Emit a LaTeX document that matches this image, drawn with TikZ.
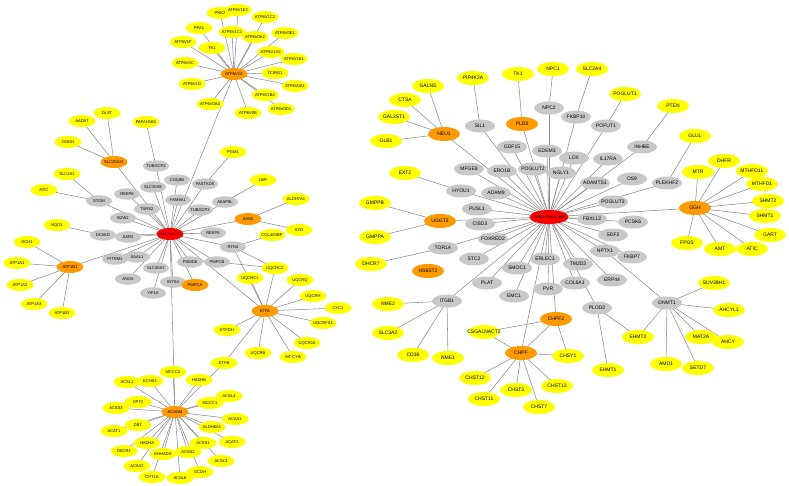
\documentclass[tikz,border=0pt]{standalone}
\usepackage{fontspec}
\setmainfont{Liberation Sans}
\usetikzlibrary{shapes.geometric,backgrounds}
\definecolor{ye}{HTML}{FFFF00}
\definecolor{og}{HTML}{FF9A00}
\definecolor{gy}{HTML}{C8C8C8}
\definecolor{rd}{HTML}{FF0000}
\definecolor{edgec}{HTML}{8C8C8C}
\newcommand{\nlab}[1]{\makebox[0pt]{#1}}
\tikzset{
  base/.style={ellipse, inner sep=0pt, draw=none},
  sm/.style={base, minimum width=27pt, minimum height=12pt, font=\fontsize{4.1}{5}\selectfont},
  smg/.style={base, minimum width=26pt, minimum height=11.5pt, font=\fontsize{4.1}{5}\selectfont, fill=gy},
  lg/.style={base, minimum width=32pt, minimum height=14pt, font=\fontsize{5}{6}\selectfont},
  lgg/.style={base, minimum width=30pt, minimum height=13pt, font=\fontsize{5}{6}\selectfont, fill=gy},
  Y/.style={fill=ye}, O/.style={fill=og}, R/.style={fill=rd},
  edge/.style={draw=edgec, line width=0.55pt}
}
\begin{document}
\begin{tikzpicture}[x=1pt,y=-1pt]
\useasboundingbox (0,0) rectangle (789,486);
% ---------- left cluster ----------
\node[sm,R,minimum width=27pt] (hubM) at (170,234) {\fontsize{3.3}{4}\selectfont\nlab{SARS-CoV-2 M}};
% ATP6V1A group
\node[sm,O] (ATP6V1A) at (234,74) {\nlab{ATP6V1A}};
\node[sm,Y] (ATP6V1F) at (183,42) {\nlab{ATP6V1F}};
\node[sm,Y] (ATP6V0C) at (185,63) {\nlab{ATP6V0C}};
\node[sm,Y] (ATP6V1D) at (192,84) {\nlab{ATP6V1D}};
\node[sm,Y] (PPA1) at (199,28) {\nlab{PPA1}};
\node[sm,Y] (PRK2) at (220,13) {\nlab{PRK2}};
\node[sm,Y] (ATP6V1E2) at (238,10) {\nlab{ATP6V1E2}};
\node[sm,Y] (ATP6V1C2) at (265,17) {\nlab{ATP6V1C2}};
\node[sm,Y] (ATP6V1C1) at (232,32) {\nlab{ATP6V1C1}};
\node[sm,Y] (ATP6V0A2) at (255,37) {\nlab{ATP6V0A2}};
\node[sm,Y] (ATP6V0E1) at (285,33) {\nlab{ATP6V0E1}};
\node[sm,Y] (TKa) at (212,48) {\nlab{TK1}};
\node[sm,Y] (ATP6V1G1) at (271,52) {\nlab{ATP6V1G1}};
\node[sm,Y] (ATP6V1E1) at (294,59) {\nlab{ATP6V1E1}};
\node[sm,Y] (TCIRG1) at (275,73) {\nlab{TCIRG1}};
\node[sm,Y] (ATP6V0A1) at (295,86) {\nlab{ATP6V0A1}};
\node[sm,Y] (ATP6V1B2) at (265,95) {\nlab{ATP6V1B2}};
\node[sm,Y] (ATP6V0D1) at (281,109) {\nlab{ATP6V0D1}};
\node[sm,Y] (ATP6V0B) at (248,113) {\nlab{ATP6V0B}};
\node[sm,Y] (ATP6V0A4) at (210,104) {\nlab{ATP6V0A4}};
\node[sm,Y] (PGM1) at (233,152) {\nlab{PGM1}};
% SLC25A21 group
\node[sm,O] (SLC25A21) at (114,162) {\nlab{SLC25A21}};
\node[sm,Y] (DLST) at (107,113) {\nlab{DLST}};
\node[sm,Y] (AADAT) at (82,121) {\nlab{AADAT}};
\node[sm,Y] (OGDH) at (68,142) {\nlab{OGDH}};
\node[sm,Y] (PAFAH1B1) at (146,122) {\nlab{PAFAH1B1}};
\node[sm,Y] (SLC2A1) at (67,174) {\nlab{SLC2A1}};
\node[sm,Y] (ATICa) at (44,190) {\nlab{ATIC}};
\node[sm,Y] (NQO1) at (57,225) {\nlab{NQO1}};
% ATP1B1 group
\node[sm,O] (ATP1B1) at (70,267) {\nlab{ATP1B1}};
\node[sm,Y] (GCH1) at (27,242) {\nlab{GCH1}};
\node[sm,Y] (ATP1A1) at (17,263) {\nlab{ATP1A1}};
\node[sm,Y] (ATP1A2) at (20,285) {\nlab{ATP1A2}};
\node[sm,Y] (ATP1A3) at (34,304) {\nlab{ATP1A3}};
\node[sm,Y] (ATP1B3) at (62,313) {\nlab{ATP1B3}};
% gray M interactors
\node[smg] (TUBGCP2) at (156,166) {\nlab{TUBGCP2}};
\node[smg] (COQ8B) at (177,180) {\nlab{COQ8B}};
\node[smg] (SLC30A9) at (153,187) {\nlab{SLC30A9}};
\node[smg] (REEP6) at (127,194) {\nlab{REEP6}};
\node[smg] (FAM8A1) at (178,200) {\nlab{FAM8A1}};
\node[smg] (TARS2) at (147,209) {\nlab{TARS2}};
\node[smg] (STOM) at (99,201) {\nlab{STOM}};
\node[smg] (BZW2) at (123,218) {\nlab{BZW2}};
\node[smg] (DCAKD) at (103,235) {\nlab{DCAKD}};
\node[smg] (AAR2) at (128,237) {\nlab{AAR2}};
\node[smg] (PITRM1) at (115,259) {\nlab{PITRM1}};
\node[smg] (SAAL1) at (137,257) {\nlab{SAAL1}};
\node[smg] (SLC30A7) at (156,268) {\nlab{SLC30A7}};
\node[smg] (ANO6) at (128,279) {\nlab{ANO6}};
\node[smg] (YIF1A) at (153,293) {\nlab{YIF1A}};
\node[smg] (INTS4) at (173,282) {\nlab{INTS4}};
\node[smg] (PSMD6) at (190,262) {\nlab{PSMD6}};
\node[smg] (PMPCB) at (217,262) {\nlab{PMPCB}};
\node[smg] (FASTKD5) at (205,184) {\nlab{FASTKD5}};
\node[smg] (AKAP8L) at (225,202) {\nlab{AKAP8L}};
\node[smg] (TUBGCP3) at (200,210) {\nlab{TUBGCP3}};
\node[smg] (REEP5) at (213,233) {\nlab{REEP5}};
\node[smg] (RTN4) at (233,247) {\nlab{RTN4}};
\node[sm,O] (PMPCA) at (195,285) {\nlab{PMPCA}};
% AASS
\node[sm,O] (AASS) at (248,219) {\nlab{AASS}};
\node[sm,Y] (LBR) at (263,180) {\nlab{LBR}};
\node[sm,Y] (ALDH7A1) at (296,199) {\nlab{ALDH7A1}};
\node[sm,Y] (SYD) at (299,230) {\nlab{SYD}};
\node[sm,Y] (COL4A3BP) at (272,235) {\nlab{COL4A3BP}};
% ETFA group
\node[sm,O] (ETFA) at (265,311) {\nlab{ETFA}};
\node[sm,Y] (UQCRC2) at (275,268) {\nlab{UQCRC2}};
\node[sm,Y] (UQCRC1) at (250,278) {\nlab{UQCRC1}};
\node[sm,Y] (UQCRQ) at (300,280) {\nlab{UQCRQ}};
\node[sm,Y] (UQCRH) at (313,296) {\nlab{UQCRH}};
\node[sm,Y] (CYC1) at (338,308) {\nlab{CYC1}};
\node[sm,Y] (UQCRFS1) at (323,323) {\nlab{UQCRFS1}};
\node[sm,Y] (UQCR10) at (307,343) {\nlab{UQCR10}};
\node[sm,Y] (MTCYB) at (293,357) {\nlab{MT-CYB}};
\node[sm,Y] (UQCRB) at (258,353) {\nlab{UQCRB}};
\node[sm,Y] (ETFDH) at (227,330) {\nlab{ETFDH}};
\node[sm,Y] (ETFB) at (224,363) {\nlab{ETFB}};
% ACADM group
\node[sm,O] (ACADM) at (175,412) {\nlab{ACADM}};
\node[sm,Y] (MCCC2) at (173,372) {\nlab{MCCC2}};
\node[sm,Y] (HADHB) at (199,380) {\nlab{HADHB}};
\node[sm,Y] (ECHS1) at (150,381) {\nlab{ECHS1}};
\node[sm,Y] (ACSL1) at (127,382) {\nlab{ACSL1}};
\node[sm,Y] (CPT2) at (138,402) {\nlab{CPT2}};
\node[sm,Y] (ACSS3) at (116,408) {\nlab{ACSS3}};
\node[sm,Y] (DBT) at (138,425) {\nlab{DBT}};
\node[sm,Y] (ACAT1) at (114,431) {\nlab{ACAT1}};
\node[sm,Y] (HADHA) at (147,443) {\nlab{HADHA}};
\node[sm,Y] (DECR1) at (124,451) {\nlab{DECR1}};
\node[sm,Y] (ACSS2) at (188,452) {\nlab{ACSS2}};
\node[sm,Y] (EHHADH) at (163,454) {\nlab{EHHADH}};
\node[sm,Y] (ACAA2) at (137,466) {\nlab{ACAA2}};
\node[sm,Y] (CPT1A) at (152,477) {\nlab{CPT1A}};
\node[sm,Y] (ACSL6) at (180,478) {\nlab{ACSL6}};
\node[sm,Y] (GCDH) at (200,472) {\nlab{GCDH}};
\node[sm,Y] (ACSL3) at (221,461) {\nlab{ACSL3}};
\node[sm,Y] (ACAT2) at (232,442) {\nlab{ACAT2}};
\node[sm,Y] (ACSS1) at (203,443) {\nlab{ACSS1}};
\node[sm,Y] (ALDH6A1) at (212,427) {\nlab{ALDH6A1}};
\node[sm,Y] (ACAA1) at (235,419) {\nlab{ACAA1}};
\node[sm,Y] (MCCC1) at (210,403) {\nlab{MCCC1}};
\node[sm,Y] (ACSL4) at (229,396) {\nlab{ACSL4}};
% ---------- right cluster ----------
\node[lg,R,minimum width=39pt] (hubO) at (549,217) {\fontsize{4}{5}\selectfont\nlab{SARS-CoV-2 orf8}};
\node[lg,O] (NEU1) at (444,134) {\nlab{NEU1}};
\node[lg,Y] (GALNS) at (428,86) {\nlab{GALNS}};
\node[lg,Y] (CTSA) at (405,100) {\nlab{CTSA}};
\node[lg,Y] (GAL3ST1) at (394,117) {\nlab{GAL3ST1}};
\node[lg,Y] (GLB1) at (386,141) {\nlab{GLB1}};
\node[lg,Y] (PIP4K2A) at (473,78) {\nlab{PIP4K2A}};
\node[lg,Y] (TKb) at (518,74) {\nlab{TK1}};
\node[lg,Y] (NPC1) at (553,69) {\nlab{NPC1}};
\node[lg,Y] (SLC2A4) at (592,69) {\nlab{SLC2A4}};
\node[lg,Y] (POGLUT1) at (625,94) {\nlab{POGLUT1}};
\node[lg,Y] (PTEN) at (673,106) {\nlab{PTEN}};
\node[lg,Y] (GLUL) at (695,136) {\nlab{GLUL}};
\node[lg,O] (PLD3) at (522,124) {\nlab{PLD3}};
\node[lg,O] (GGH) at (695,208) {\nlab{GGH}};
\node[lg,Y] (DHFR) at (724,161) {\nlab{DHFR}};
\node[lg,Y] (MTR) at (698,172) {\nlab{MTR}};
\node[lg,Y] (MTHFD1L) at (752,171) {\nlab{MTHFD1L}};
\node[lg,Y] (MTHFD1) at (762,184) {\nlab{MTHFD1}};
\node[lg,Y] (SHMT2) at (768,201) {\nlab{SHMT2}};
\node[lg,Y] (SHMT1) at (765,216) {\nlab{SHMT1}};
\node[lg,Y] (GART) at (770,235) {\nlab{GART}};
\node[lg,Y] (FPGS) at (687,243) {\nlab{FPGS}};
\node[lg,Y] (AMT) at (720,249) {\nlab{AMT}};
\node[lg,Y] (ATICb) at (752,249) {\nlab{ATIC}};
\node[lg,Y] (EXT2) at (405,173) {\nlab{EXT2}};
\node[lg,O] (UGGT2) at (440,221) {\nlab{UGGT2}};
\node[lg,Y] (GMPPB) at (375,203) {\nlab{GMPPB}};
\node[lg,Y] (GMPPA) at (375,237) {\nlab{GMPPA}};
\node[lg,Y] (DHCR7) at (371,264) {\nlab{DHCR7}};
\node[lg,O] (HS6ST2) at (428,271) {\nlab{HS6ST2}};
\node[lg,Y] (NME2) at (388,304) {\nlab{NME2}};
\node[lg,Y] (SLC3A2) at (388,333) {\nlab{SLC3A2}};
\node[lg,Y] (CD36) at (413,355) {\nlab{CD36}};
\node[lg,Y] (NME1) at (448,358) {\nlab{NME1}};
\node[lg,Y] (CSGALNACT2) at (484,332) {\nlab{CSGALNACT2}};
\node[lg,O] (CHPF2) at (556,319) {\nlab{CHPF2}};
\node[lg,O] (CHPF) at (521,353) {\nlab{CHPF}};
\node[lg,Y] (CHSY1) at (568,356) {\nlab{CHSY1}};
\node[lg,Y] (CHST12) at (475,378) {\nlab{CHST12}};
\node[lg,Y] (CHST3) at (516,390) {\nlab{CHST3}};
\node[lg,Y] (CHST13) at (557,386) {\nlab{CHST13}};
\node[lg,Y] (CHST11) at (484,399) {\nlab{CHST11}};
\node[lg,Y] (CHST7) at (539,407) {\nlab{CHST7}};
\node[lg,Y] (SUV39H1) at (714,283) {\nlab{SUV39H1}};
\node[lg,Y] (AHCYL1) at (729,310) {\nlab{AHCYL1}};
\node[lg,Y] (EHMT2) at (638,337) {\nlab{EHMT2}};
\node[lg,Y] (EHMT1) at (608,370) {\nlab{EHMT1}};
\node[lg,Y] (AMD1) at (666,364) {\nlab{AMD1}};
\node[lg,Y] (SETD7) at (698,368) {\nlab{SETD7}};
\node[lg,Y] (MAT2A) at (701,337) {\nlab{MAT2A}};
\node[lg,Y] (AHCY) at (728,342) {\nlab{AHCY}};
% gray orf8 interactors
\node[lgg] (SIL1) at (480,126) {\nlab{SIL1}};
\node[lgg] (NPC2) at (549,108) {\nlab{NPC2}};
\node[lgg] (FKBP10) at (576,117) {\nlab{FKBP10}};
\node[lgg] (GDF15) at (512,147) {\nlab{GDF15}};
\node[lgg] (EDEM3) at (547,151) {\nlab{EDEM3}};
\node[lgg] (LOX) at (574,158) {\nlab{LOX}};
\node[lgg] (POFUT1) at (606,126) {\nlab{POFUT1}};
\node[lgg] (INHBE) at (642,147) {\nlab{INHBE}};
\node[lgg] (IL17RA) at (608,159) {\nlab{IL17RA}};
\node[lgg] (MFGE8) at (469,169) {\nlab{MFGE8}};
\node[lgg] (ERO1B) at (502,171) {\nlab{ERO1B}};
\node[lgg] (POGLUT2) at (533,169) {\nlab{POGLUT2}};
\node[lgg] (NGLY1) at (561,173) {\nlab{NGLY1}};
\node[lgg] (HYOU1) at (461,191) {\nlab{HYOU1}};
\node[lgg] (ADAM9) at (496,193) {\nlab{ADAM9}};
\node[lgg] (ADAMTS1) at (595,183) {\nlab{ADAMTS1}};
\node[lgg] (OS9) at (632,179) {\nlab{OS9}};
\node[lgg] (PLEKHF2) at (667,183) {\nlab{PLEKHF2}};
\node[lgg] (PUSL1) at (477,209) {\nlab{PUSL1}};
\node[lgg] (CISD3) at (480,224) {\nlab{CISD3}};
\node[lgg] (FOXRED2) at (493,239) {\nlab{FOXRED2}};
\node[lgg] (TOR1A) at (443,248) {\nlab{TOR1A}};
\node[lgg] (STC2) at (474,259) {\nlab{STC2}};
\node[lgg] (POGLUT3) at (613,202) {\nlab{POGLUT3}};
\node[lgg] (FBXL12) at (592,219) {\nlab{FBXL12}};
\node[lgg] (PCSK6) at (633,222) {\nlab{PCSK6}};
\node[lgg] (SDF2) at (613,235) {\nlab{SDF2}};
\node[lgg] (NPTX1) at (605,251) {\nlab{NPTX1}};
\node[lgg] (FKBP7) at (632,257) {\nlab{FKBP7}};
\node[lgg] (SMOC1) at (517,268) {\nlab{SMOC1}};
\node[lgg] (ERLEC1) at (545,259) {\nlab{ERLEC1}};
\node[lgg] (TM2D3) at (578,264) {\nlab{TM2D3}};
\node[lgg] (ERP44) at (612,280) {\nlab{ERP44}};
\node[lgg] (PLAT) at (487,283) {\nlab{PLAT}};
\node[lgg] (COL6A1) at (575,283) {\nlab{COL6A1}};
\node[lgg] (PVR) at (548,289) {\nlab{PVR}};
\node[lgg] (EMC1) at (514,296) {\nlab{EMC1}};
\node[lgg] (PLOD2) at (597,308) {\nlab{PLOD2}};
\node[lgg] (ITGB1) at (447,301) {\nlab{ITGB1}};
\node[lgg] (DNMT1) at (667,303) {\nlab{DNMT1}};
% ---------- edges ----------
\begin{pgfonlayer}{background}
\foreach \b in {TUBGCP2,COQ8B,SLC30A9,REEP6,FAM8A1,TARS2,BZW2,STOM,DCAKD,AAR2,PITRM1,SAAL1,SLC30A7,ANO6,YIF1A,INTS4,PMPCA,PSMD6,PMPCB,RTN4,REEP5,AASS,AKAP8L,TUBGCP3,FASTKD5,ATP6V1A,SLC25A21,ATP1B1,ETFA,ACADM}
  \draw[edge] (hubM.center) -- (\b.center);
\foreach \b in {PPA1,PRK2,ATP6V1E2,ATP6V1C2,ATP6V1C1,ATP6V0A2,ATP6V0E1,TKa,ATP6V1G1,ATP6V1E1,TCIRG1,ATP6V0A1,ATP6V1B2,ATP6V0D1,ATP6V0B,ATP6V0A4,ATP6V1D,ATP6V0C,ATP6V1F}
  \draw[edge] (ATP6V1A.center) -- (\b.center);
\foreach \b in {DLST,AADAT,OGDH} \draw[edge] (SLC25A21.center) -- (\b.center);
\foreach \b in {GCH1,ATP1A1,ATP1A2,ATP1A3,ATP1B3} \draw[edge] (ATP1B1.center) -- (\b.center);
\foreach \a/\b in {PAFAH1B1/TUBGCP2,PGM1/FASTKD5,STOM/SLC2A1,STOM/ATICa,DCAKD/NQO1,AKAP8L/LBR,AASS/ALDH7A1,AASS/SYD,RTN4/COL4A3BP,RTN4/UQCRC2,RTN4/ETFA,PMPCB/UQCRC2,ETFB/ACADM}
  \draw[edge] (\a.center) -- (\b.center);
\foreach \b in {UQCRC1,UQCRC2,UQCRQ,UQCRH,CYC1,UQCRFS1,UQCR10,MTCYB,UQCRB,ETFDH,ETFB}
  \draw[edge] (ETFA.center) -- (\b.center);
\foreach \b in {MCCC2,HADHB,ECHS1,ACSL1,CPT2,ACSS3,DBT,ACAT1,HADHA,DECR1,EHHADH,ACSS2,ACAA2,CPT1A,ACSL6,GCDH,ACSS1,ACSL3,ACAT2,ALDH6A1,ACAA1,MCCC1,ACSL4}
  \draw[edge] (ACADM.center) -- (\b.center);
\foreach \b in {NEU1,SIL1,PLD3,NPC2,GDF15,EDEM3,LOX,FKBP10,POFUT1,IL17RA,INHBE,ADAMTS1,OS9,PLEKHF2,POGLUT3,FBXL12,GGH,PCSK6,SDF2,NPTX1,FKBP7,TM2D3,ERP44,COL6A1,PLOD2,PVR,ERLEC1,EMC1,SMOC1,PLAT,ITGB1,STC2,FOXRED2,TOR1A,CISD3,UGGT2,PUSL1,HYOU1,ADAM9,MFGE8,ERO1B,POGLUT2,NGLY1,CHPF,CHPF2}
  \draw[edge] (hubO.center) -- (\b.center);
\foreach \b in {GALNS,CTSA,GAL3ST1,GLB1} \draw[edge] (NEU1.center) -- (\b.center);
\foreach \a/\b in {SIL1/PIP4K2A,PLD3/TKb,NPC2/NPC1,FKBP10/SLC2A4,POFUT1/POGLUT1,INHBE/PTEN,PLEKHF2/GLUL,HYOU1/EXT2,UGGT2/GMPPB,UGGT2/GMPPA,TOR1A/DHCR7,CSGALNACT2/CHPF2,CSGALNACT2/CHPF,CHPF/CHPF2,CHPF/CHSY1,CHPF2/CHSY1,DNMT1/NPTX1,PLOD2/EHMT2,PLOD2/EHMT1}
  \draw[edge] (\a.center) -- (\b.center);
\foreach \b in {NME2,SLC3A2,CD36,NME1} \draw[edge] (ITGB1.center) -- (\b.center);
\foreach \b in {CHST12,CHST3,CHST11,CHST7,CHST13} \draw[edge] (CHPF.center) -- (\b.center);
\foreach \b in {MTR,DHFR,MTHFD1L,MTHFD1,SHMT2,SHMT1,GART,FPGS,AMT,ATICb} \draw[edge] (GGH.center) -- (\b.center);
\foreach \b in {SUV39H1,AHCYL1,EHMT2,AMD1,SETD7,MAT2A,AHCY} \draw[edge] (DNMT1.center) -- (\b.center);
\end{pgfonlayer}
\end{tikzpicture}
\end{document}
